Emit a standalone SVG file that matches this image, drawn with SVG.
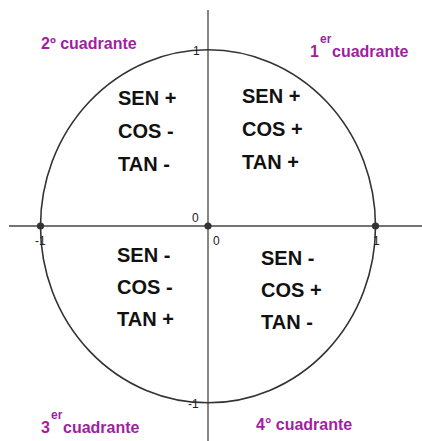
<svg xmlns="http://www.w3.org/2000/svg" width="422" height="441" viewBox="0 0 422 441">
<style>
.ax{stroke:#444;stroke-width:1.3;fill:none}
.circ{stroke:#333;stroke-width:1.6;fill:none}
.pt{fill:#333}
.num{font-family:"Liberation Sans",Arial,sans-serif;font-size:12px;fill:#222}
.q{font-family:"Liberation Sans",Arial,sans-serif;font-size:16px;font-weight:bold;fill:#a01fa0}
.sup{font-family:"Liberation Sans",Arial,sans-serif;font-size:12px;font-weight:bold;fill:#a01fa0}
.t{font-family:"Liberation Sans",Arial,sans-serif;font-size:20px;font-weight:bold;fill:#111}
</style>
<rect width="422" height="441" fill="#fff"/>
<g id="connectors">
<line class="ax" x1="9" y1="226" x2="422" y2="226"/>
<line class="ax" x1="208" y1="10" x2="208" y2="441"/>
<ellipse class="circ" cx="208" cy="226.3" rx="167.5" ry="176.5"/>
</g>
<g id="points">
<circle class="pt" cx="40.5" cy="226" r="3.6"/>
<circle class="pt" cx="208" cy="226" r="3.6"/>
<circle class="pt" cx="375.5" cy="226" r="3.6"/>
</g>
<g id="axis-labels">
<text class="num" x="193" y="55">1</text>
<text class="num" x="188" y="408">-1</text>
<text class="num" x="192" y="222">0</text>
<text class="num" x="213" y="245">0</text>
<text class="num" x="35" y="245">-1</text>
<text class="num" x="373" y="245">1</text>
</g>
<g id="q1">
<text class="q" x="310" y="57">1</text><text class="sup" x="320" y="43">er</text><text class="q" x="332" y="57">cuadrante</text>
<text class="t" x="242" y="103">SEN +</text>
<text class="t" x="242" y="136">COS +</text>
<text class="t" x="242" y="169">TAN +</text>
</g>
<g id="q2">
<text class="q" x="41" y="49">2º cuadrante</text>
<text class="t" x="118" y="105">SEN +</text>
<text class="t" x="118" y="138">COS -</text>
<text class="t" x="118" y="171">TAN -</text>
</g>
<g id="q3">
<text class="q" x="41" y="433">3</text><text class="sup" x="51" y="419">er</text><text class="q" x="63" y="433">cuadrante</text>
<text class="t" x="117" y="262">SEN -</text>
<text class="t" x="117" y="294">COS -</text>
<text class="t" x="117" y="326">TAN +</text>
</g>
<g id="q4">
<text class="q" x="256" y="430">4° cuadrante</text>
<text class="t" x="261" y="265">SEN -</text>
<text class="t" x="261" y="297">COS +</text>
<text class="t" x="261" y="329">TAN -</text>
</g>
</svg>
